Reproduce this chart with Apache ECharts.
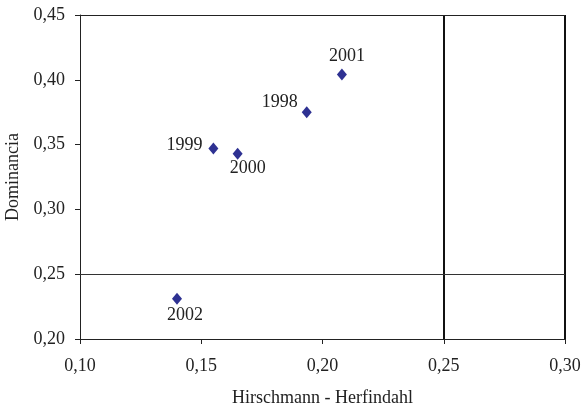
<!DOCTYPE html>
<html><head><meta charset="utf-8">
<script src="https://cdn.jsdelivr.net/npm/echarts@6/dist/echarts.min.js"></script>
<style>html,body{margin:0;padding:0;background:#fff}#c{width:586px;height:405px}</style>
</head><body><div id="c"></div>
<script>
const years = ['1998','1999','2000','2001','2002'];
const hhi = [0.1935, 0.155, 0.165, 0.208, 0.140];
const dominancia = [0.375, 0.347, 0.343, 0.404, 0.231];
const labelPos = ['left','left','bottom','top','bottom'];
const xTicks = [0.10, 0.30, 0.05];
const yTicks = [0.20, 0.45, 0.05];
const refX = [0.25, 0.30];
const refY = [0.25, 0.45];

const font = '"Liberation Serif", "DejaVu Serif", serif';
const fmt = v => v.toFixed(2).replace('.', ',');
const offsets = [[-1,-10],[-3,-3],[10,-3],[5,0],[8,-2]];

const data = years.map((y,i)=>({
  value:[hhi[i], dominancia[i]], name:y,
  label:{show:true, position:labelPos[i], formatter:y, distance:3, offset:offsets[i]}
}));

const chart = echarts.init(document.getElementById('c'));
chart.setOption({
  animation:false,
  backgroundColor:'#fff',
  grid:{left:80, right:21, top:15, bottom:66, outerBoundsMode:'none'},
  xAxis:{type:'value', min:xTicks[0], max:xTicks[1], interval:xTicks[2],
    name:'Hirschmann - Herfindahl', nameLocation:'middle', nameGap:50,
    nameTextStyle:{fontFamily:font, fontSize:18, color:'#222'},
    axisLine:{onZero:false, lineStyle:{color:'#222', width:1}},
    axisTick:{show:true, length:5, lineStyle:{color:'#222'}},
    axisLabel:{formatter:fmt, fontFamily:font, fontSize:18, color:'#222', margin:18},
    splitLine:{show:false}},
  yAxis:{type:'value', min:yTicks[0], max:yTicks[1], interval:yTicks[2],
    name:'Dominancia', nameLocation:'middle', nameGap:52, nameRotate:90,
    nameTextStyle:{fontFamily:font, fontSize:18, color:'#222'},
    axisLine:{show:true, onZero:false, lineStyle:{color:'#222', width:1}},
    axisTick:{show:true, length:5, lineStyle:{color:'#222'}},
    axisLabel:{formatter:fmt, fontFamily:font, fontSize:18, color:'#222', margin:15},
    splitLine:{show:false}},
  series:[{
    type:'scatter', symbol:'diamond', symbolSize:[10,12],
    itemStyle:{color:'#2E3192', opacity:1},
    label:{fontFamily:font, fontSize:18, color:'#222'},
    data:data,
    markLine:{silent:true, symbol:'none', label:{show:false},
      data:[
        {xAxis:refX[0], lineStyle:{color:'#111', width:2, type:'solid'}},
        {xAxis:refX[1], lineStyle:{color:'#111', width:2, type:'solid'}},
        {yAxis:refY[0], lineStyle:{color:'#333', width:1, type:'solid'}},
        {yAxis:refY[1], lineStyle:{color:'#222', width:1, type:'solid'}}
      ]}
  }]
});
</script></body></html>
